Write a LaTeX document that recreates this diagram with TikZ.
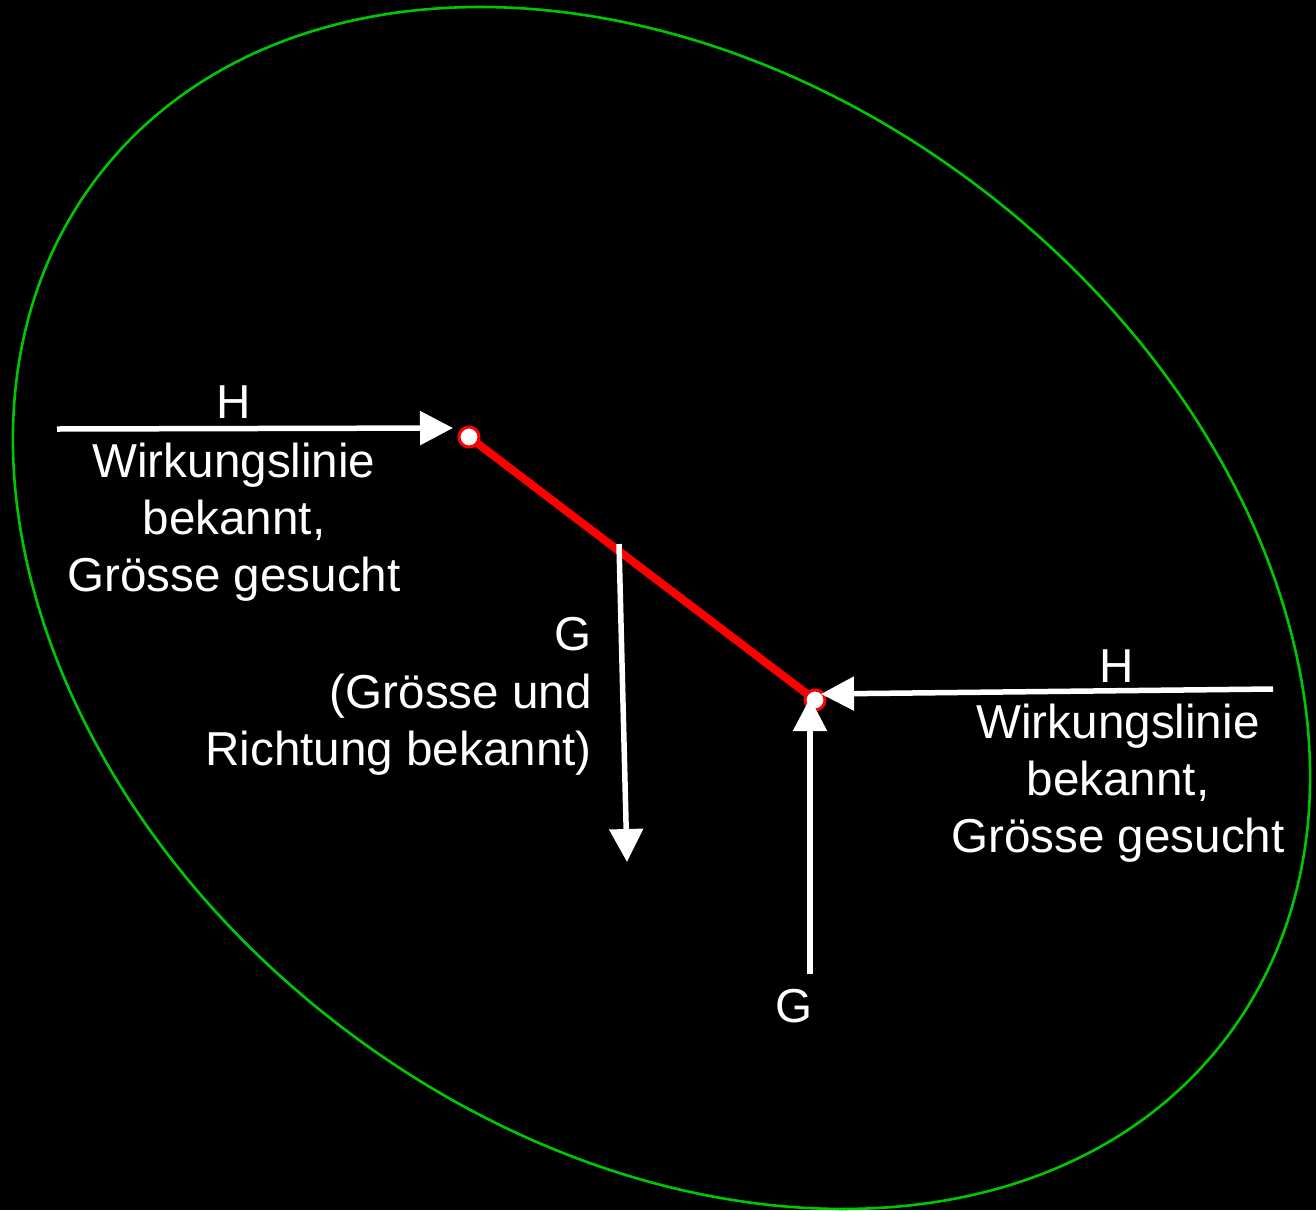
\documentclass[tikz,border=0pt]{standalone}
\usepackage{fontspec}
\setmainfont{Liberation Sans}
\usetikzlibrary{arrows.meta}
\begin{document}
\begin{tikzpicture}[x=1pt,y=-1pt,
  lbl/.style={text=white,inner sep=0pt,anchor=base,font=\fontsize{47.6}{58}\selectfont},
  lblr/.style={lbl,anchor=base east},
  force/.style={draw=white,line width=5.5pt,-{Triangle[length=33pt,width=33pt]}},
  joint/.style={circle,draw=red,line width=3pt,fill=white,minimum size=20pt,inner sep=0pt},
  bar/.style={draw=red,line width=8pt}]
\fill[black] (0,0) rectangle (1316,1210);
\useasboundingbox (0,0) rectangle (1316,1210);
% ellipse
\coordinate (c) at (661.5,608);
\draw[draw={rgb,255:red,0;green,200;blue,0},line width=2.6pt,rotate around={-37.38:(c)}]
  (c) ellipse [x radius=709.8, y radius=527.2];
% joints
\coordinate (p1) at (469,437);
\coordinate (p2) at (815,700);
\draw[bar] (p1) -- (p2);
\node[joint] (j1) at (p1) {};
\node[joint] (j2) at (p2) {};
% forces
\coordinate (h1s) at (57,429);
\coordinate (h1e) at (453,428);
\draw[force] (h1s) -- (h1e);
\coordinate (h2s) at (1273,689);
\coordinate (h2e) at (821,694);
\draw[force] (h2s) -- (h2e);
\coordinate (g1s) at (619,544);
\coordinate (g1e) at (627,862);
\draw[force] (g1s) -- (g1e);
\coordinate (g2s) at (810,974);
\coordinate (g2e) at (810,698);
\draw[force] (g2s) -- (g2e);
% labels left
\node[lbl] (lh) at (234,418) {H};
\node[lbl] (l1) at (234,477) {Wirkungslinie};
\node[lbl] (l2) at (234,534) {bekannt,};
\node[lbl] (l3) at (234,591) {Grösse gesucht};
% labels right
\node[lbl] (rh) at (1117,682) {H};
\node[lbl] (r1) at (1118,738) {Wirkungslinie};
\node[lbl] (r2) at (1118,795) {bekannt,};
\node[lbl] (r3) at (1118,852) {Grösse gesucht};
% labels middle
\node[lblr] (m0) at (592,650) {G};
\node[lblr] (m1) at (592,708) {(Grösse und};
\node[lblr] (m2) at (592,765) {Richtung bekannt)};
% bottom G
\node[lbl] (bg) at (794,1022) {G};
\end{tikzpicture}
\end{document}
